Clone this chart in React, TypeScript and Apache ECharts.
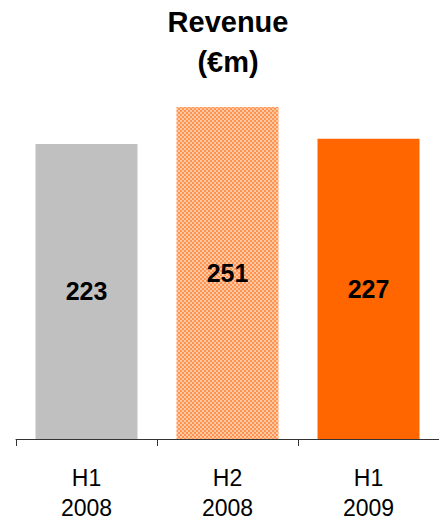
import React, { useEffect, useRef } from "react";
import * as echarts from "echarts";

const categories = ["H1\n2008", "H2\n2008", "H1\n2009"];
const revenue = [223, 251, 227];
const barColors = ["#C0C0C0", "pattern", "#FF6600"];
const titleText = "Revenue\n(€m)";

const FONT = "'Liberation Sans', Arial, sans-serif";

function makePattern(): HTMLCanvasElement {
  const c = document.createElement("canvas");
  c.width = 4;
  c.height = 4;
  const ctx = c.getContext("2d")!;
  ctx.fillStyle = "#FF9450";
  ctx.fillRect(0, 0, 4, 4);
  ctx.fillStyle = "#FFC8A2";
  ctx.fillRect(0, 0, 2, 2);
  ctx.fillRect(2, 2, 2, 2);
  return c;
}

export default function App() {
  const ref = useRef<HTMLDivElement>(null);
  useEffect(() => {
    if (!ref.current) return;
    const chart = echarts.init(ref.current, undefined, { renderer: "svg" });
    const pattern = makePattern();
    chart.setOption({
      animation: false,
      backgroundColor: "#ffffff",
      title: {
        text: titleText,
        left: 228,
        top: 2,
        padding: 0,
        textAlign: "center",
        textStyle: {
          fontFamily: FONT,
          fontWeight: "bold",
          fontSize: 29,
          lineHeight: 40,
          color: "#000",
        },
      },
      grid: { left: 16, width: 429, top: 95, bottom: 79 },
      xAxis: {
        type: "category",
        data: categories,
        axisLine: { show: true, lineStyle: { color: "#333", width: 1 } },
        axisTick: { show: true, length: 7, lineStyle: { color: "#333" } },
        axisLabel: {
          margin: 24,
          fontFamily: FONT,
          fontSize: 23,
          lineHeight: 30,
          color: "#000",
        },
      },
      yAxis: {
        type: "value",
        min: 0,
        max: 260,
        show: false,
        splitLine: { show: false },
      },
      series: [
        {
          type: "bar",
          barWidth: 102,
          data: revenue.map((v, i) => ({
            value: v,
            itemStyle: {
              color:
                barColors[i] === "pattern"
                  ? { image: pattern, repeat: "repeat" }
                  : barColors[i],
            },
          })),
          label: {
            show: true,
            position: "inside",
            fontFamily: FONT,
            fontWeight: "bold",
            fontSize: 25,
            color: "#000",
          },
        },
      ],
    });
    return () => chart.dispose();
  }, []);
  return (
    <div
      ref={ref}
      style={{ position: "fixed", left: 0, top: 0, width: 439, height: 523 }}
    />
  );
}
